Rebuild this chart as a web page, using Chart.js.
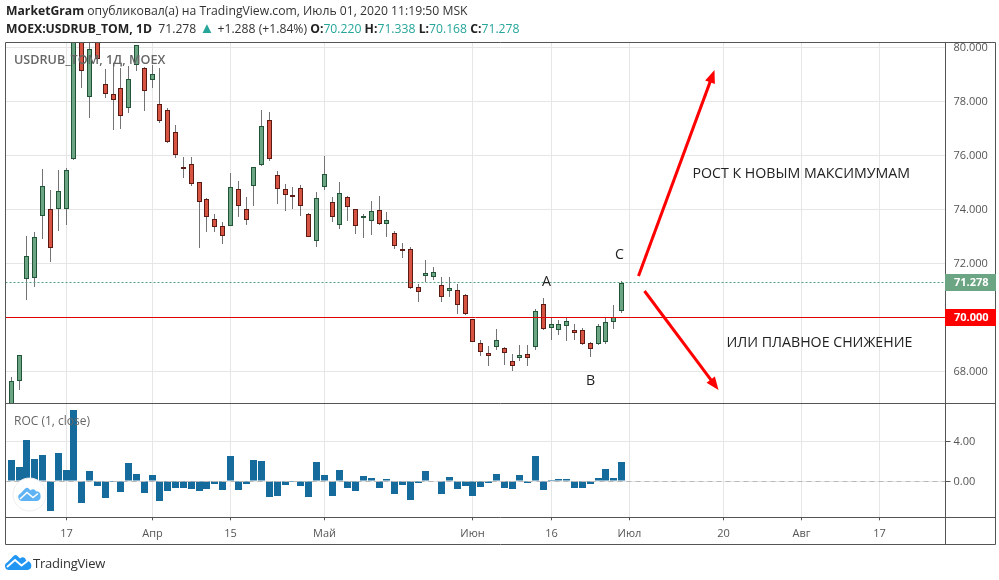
<!DOCTYPE html>
<html>
<head>
<meta charset="utf-8">
<title>USDRUB_TOM</title>
<script src="https://cdn.jsdelivr.net/npm/chart.js@4"></script>
<style>
    html, body { margin: 0; padding: 0; background: #fff; }
    #wrap { position: relative; width: 999px; height: 580px; overflow: hidden; font-family: "Open Sans", sans-serif; }
    canvas { position: absolute; left: 0; top: 0; }
    .txt { position: absolute; white-space: nowrap; line-height: 16px; }
    .head { font-size: 12.2px; color: #333; }
    .head b { color: #222; font-weight: 700; }
    .head i { font-style: normal; color: #26a69a; }
    .head i.tri { font-size: 15px; line-height: 0; }
    .pane { font-size: 12.6px; color: #666; left: 14px; }
</style>
</head>
<body>
<div id="wrap">
    <canvas id="chart" width="999" height="580"></canvas>
    <div class="txt head" style="left:6px;top:3px"><b>MarketGram</b> опубликовал(а) на TradingView.com, Июль 01, 2020 11:19:50 MSK</div>
    <div class="txt head" style="left:6px;top:21px"><b>MOEX:USDRUB_TOM, 1D</b>&nbsp; 71.278 <i class="tri">▲</i> +1.288 (+1.84%) <b>O:</b><i>70.220</i> <b>H:</b><i>71.338</i> <b>L:</b><i>70.168</i> <b>C:</b><i>71.278</i></div>
    <div class="txt pane" style="top:52px;font-weight:600">USDRUB_TOM, 1Д, MOEX</div>
    <div class="txt pane" style="top:413px;font-size:12px">ROC (1, close)</div>

    <svg style="position:absolute;left:12px;top:477px" width="35" height="35" viewBox="0 0 35 35">
        <circle cx="17.5" cy="17.5" r="16.5" fill="#fff" stroke="#eee" stroke-width="1"/>
        <path d="M10 24 a4 4 0 0 1 -1.5 -7.6 l4.5 -4.6 q2 -2 4 0 l1.5 1.6 q2 -2.2 4.5 -0.6 l1 1.6 a4 4 0 0 1 4.5 4.6 a4 4 0 0 1 -3.5 5 z" fill="#5eb3f5"/>
        <path d="M8 22 l7 -6.5 l6 5 l5 -4" fill="none" stroke="#fff" stroke-width="1.6"/>
    </svg>
    <svg style="position:absolute;left:5px;top:554px" width="27" height="17" viewBox="0 0 27 17">
        <path d="M4 16 a4 4 0 0 1 -1.5 -7.7 l6 -6.3 q2 -2 4 0 l2.5 2.6 q2.5 -2.3 5 -0.4 l1.5 2.8 a4.4 4.4 0 0 1 4.8 4.6 a4.4 4.4 0 0 1 -3.8 4.4 z" fill="#2196f3"/>
        <path d="M2 13 l8 -7 l6.500 5.500 l6 -4.500" fill="none" stroke="#fff" stroke-width="1.800"/>
    </svg>
    <div class="txt" style="left:33px;top:555px;font-size:13px;letter-spacing:-0.2px;color:#333">TradingView</div>
</div>

<script>
// Дневные свечи USDRUB_TOM
const opens = [66.6,67.63,71.41,71.47,73.74,74.0,74.0,74.0,75.87,81.0,78.17,80.7,78.63,78.26,78.48,77.76,79.33,79.24,78.78,77.89,
    77.67,76.85,75.56,75.67,75.0,74.37,73.63,73.37,73.39,74.74,74.0,74.87,75.65,77.3,75.26,74.74,74.48,74.78,73.81,72.84,
    74.84,74.26,73.43,74.44,74.0,73.68,73.58,73.96,73.47,73.11,72.5,72.52,71.11,71.54,71.5,71.19,70.99,71.0,70.81,69.93,
    69.04,68.67,68.91,68.85,68.37,68.5,68.63,68.91,70.48,69.61,69.54,69.69,69.52,69.54,69.04,69.02,69.1,69.84,70.22];
const highs = [67.79,68.6,73.01,73.15,75.49,74.71,75.46,75.52,81.5,81.5,80.6,81.0,79.2,79.41,79.23,79.31,80.09,79.26,79.34,79.24,
    77.74,77.12,75.94,75.94,75.0,74.41,73.83,73.53,75.34,75.05,74.46,75.57,77.68,77.6,75.42,74.94,74.83,74.9,73.86,74.63,
    75.97,74.46,75.01,74.49,74.02,73.83,74.31,74.49,73.9,73.2,72.75,72.6,71.23,72.12,71.86,71.48,71.48,71.23,70.85,69.95,
    69.16,68.94,69.57,68.89,68.64,68.97,68.97,70.31,70.71,69.97,69.89,69.97,69.74,69.59,69.09,69.74,69.97,70.46,71.338];
const lows = [66.4,67.31,70.65,71.12,72.9,72.06,73.21,73.43,75.82,78.49,77.39,79.55,78.11,76.94,76.97,77.56,79.11,77.64,78.5,77.2,
    76.46,75.91,75.16,74.86,72.58,73.16,73.16,72.71,73.37,73.71,73.42,74.12,75.61,75.8,74.2,73.94,74.01,73.75,72.98,72.6,
    74.71,73.53,73.27,73.57,73.09,72.94,73.05,73.42,72.97,72.54,72.2,71.05,70.57,71.3,71.38,70.57,70.75,70.12,70.09,69.08,
    68.57,68.2,68.8,68.23,68.01,68.38,68.2,68.79,69.54,69.16,69.34,69.12,69.16,68.97,68.54,68.97,69.02,69.57,70.168];
const closes = [67.63,68.59,72.26,72.96,74.85,72.58,74.67,75.44,81.0,79.11,79.93,79.58,78.28,78.06,77.47,78.81,80.07,78.37,79.0,77.26,
    76.48,76.02,75.5,74.95,74.28,73.73,73.36,73.0,74.81,74.13,73.61,75.56,77.07,75.87,74.76,74.54,74.46,74.13,72.99,74.41,
    75.3,73.73,74.59,74.1,73.39,73.7,73.93,73.47,73.59,72.65,72.47,71.09,70.95,71.63,71.67,70.76,71.07,70.47,70.12,69.1,
    68.73,68.58,69.15,68.69,68.21,68.59,68.5,70.22,69.58,69.74,69.74,69.85,69.43,69.02,68.84,69.67,69.81,70.0,71.278];
const rocValues = [2.13,1.43,4.13,2.23,2.63,-2.97,2.83,1.13,7.13,-2.17,1.03,-0.47,-1.67,-0.07,-1.07,1.83,0.73,-1.17,0.63,-1.97,
    -0.97,-0.67,-0.67,-0.77,-0.97,-0.77,-0.27,-0.87,2.53,-0.87,-0.27,2.13,2.03,-1.57,-1.47,-0.37,-0.07,-0.47,-1.57,1.93,
    0.63,-1.47,1.13,-0.67,-0.97,0.53,0.33,-0.67,0.23,-1.27,-0.37,-1.87,-0.17,1.03,0.07,-1.27,0.43,-0.77,-0.47,-1.47,
    -0.57,-0.17,0.73,-0.67,-0.77,0.63,-0.17,2.53,-0.87,0.13,0.23,0.23,-0.67,-0.67,-0.27,0.33,1.23,0.33,1.9];

const priceTicks = [68,70,72,74,76,78,80];
const rocTicks = [0,4];
const timeTickIndex = [7,18,28,40,59,69,79,91,101,111];
const timeTickLabels = ['17','Апр','15','Май','Июн','16','Июл','20','Авг','17'];
const lastPrice = 71.278;
const levelPrice = 70;

// Рисунки автора поверх графика: индекс свечи и цена
const arrows = [
    { from: [80.14, 71.53], to: [89.9, 79.16] },
    { from: [80.9, 70.97], to: [90.33, 67.31] }
];
const notes = [
    { i: 68.36, p: 71.34, text: 'A', align: 'center' },
    { i: 77.7, p: 72.34, text: 'C', align: 'center' },
    { i: 74, p: 67.68, text: 'B', align: 'center' },
    { i: 87.1, p: 75.34, text: 'РОСТ К НОВЫМ МАКСИМУМАМ', align: 'left' },
    { i: 91.4, p: 69.09, text: 'ИЛИ ПЛАВНОЕ СНИЖЕНИЕ', align: 'left' }
];

const xMin = -0.74, xMax = 119.4;
const UP = '#6ba583', DOWN = '#d75442', UP_EDGE = '#225437', DOWN_EDGE = '#5b1a13';
const FRAME = '#555', GRID = '#e6e6e6';
const axisFont = { family: 'Open Sans', size: 11 };

const isUp = closes.map((c, i) => c >= opens[i]);
const idx = closes.map((c, i) => i);

// Свечи и линии должны лежать по пикселям, как в оригинале
function snapScale(scale, fn) {
    if (scale.snapped) return;
    const orig = scale.getPixelForValue.bind(scale);
    scale.getPixelForValue = (v, i) => fn(orig(v, i));
    scale.snapped = true;
}

const overlay = {
    id: 'overlay',
    beforeDatasetDraw(chart, args) {
        if (args.meta.type === 'line') {
            chart.ctx.save();
            chart.ctx.translate(0, chart.data.datasets[args.index].rowShift);
        }
    },
    afterDatasetDraw(chart, args) {
        if (args.meta.type === 'line') chart.ctx.restore();
    },
    afterDraw(chart) {
        const { ctx, scales: { x, yPrice, yRoc } } = chart;

        // рамка панелей
        ctx.save();
        ctx.strokeStyle = FRAME;
        ctx.lineWidth = 1;
        const r = 995.5, b = 544.5;
        ctx.beginPath();
        ctx.rect(5.5, 42.5, r - 5.5, b - 42.5);
        ctx.moveTo(5.5, Math.floor(yPrice.bottom) + 0.5); ctx.lineTo(r, Math.floor(yPrice.bottom) + 0.5);
        ctx.moveTo(5.5, Math.floor(yRoc.bottom) + 0.5); ctx.lineTo(r, Math.floor(yRoc.bottom) + 0.5);
        ctx.moveTo(945.5, 42.5); ctx.lineTo(945.5, b);
        ctx.stroke();

        // плашки цены
        [[lastPrice, UP, 9], [levelPrice, '#ff0000', 8]].forEach(([v, color, above]) => {
            const y = yPrice.getPixelForValue(v);
            ctx.fillStyle = color;
            ctx.fillRect(945, y - above, 51, 17);
            ctx.fillStyle = '#fff';
            ctx.font = '700 11px "Open Sans"';
            ctx.textAlign = 'left';
            ctx.textBaseline = 'middle';
            ctx.fillText(v.toFixed(3), 954, y - above + 9);
        });

        // стрелки
        ctx.strokeStyle = '#ff0000';
        ctx.fillStyle = '#ff0000';
        ctx.lineWidth = 3;
        arrows.forEach(({ from, to }) => {
            const x0 = x.getPixelForValue(from[0]), y0 = yPrice.getPixelForValue(from[1]);
            const x1 = x.getPixelForValue(to[0]), y1 = yPrice.getPixelForValue(to[1]);
            const ang = Math.atan2(y1 - y0, x1 - x0);
            ctx.beginPath();
            ctx.moveTo(x0, y0);
            ctx.lineTo(x1 - 6 * Math.cos(ang), y1 - 6 * Math.sin(ang));
            ctx.stroke();
            ctx.beginPath();
            ctx.moveTo(x1, y1);
            ctx.lineTo(x1 - 14 * Math.cos(ang - 0.38), y1 - 14 * Math.sin(ang - 0.38));
            ctx.lineTo(x1 - 14 * Math.cos(ang + 0.38), y1 - 14 * Math.sin(ang + 0.38));
            ctx.closePath();
            ctx.fill();
        });

        // подписи
        ctx.fillStyle = '#222';
        ctx.font = '14.2px "Open Sans"';
        ctx.textBaseline = 'middle';
        notes.forEach(n => {
            ctx.textAlign = n.align;
            ctx.fillText(n.text, x.getPixelForValue(n.i), yPrice.getPixelForValue(n.p) + 1);
        });
        ctx.restore();
    }
};

function levelLine(value, yAxisID, color, dash, rowShift) {
    return {
        type: 'line', xAxisID: 'x', yAxisID, order: 1, rowShift,
        data: [{ x: xMin, y: value }, { x: xMax, y: value }],
        borderColor: color, borderWidth: 1, borderDash: dash, pointRadius: 0, clip: 0
    };
}

new Chart(document.getElementById('chart'), {
    type: 'bar',
    data: {
        datasets: [
            {
                yAxisID: 'yPrice', order: 4, barThickness: 1, inflateAmount: 0, clip: 0,
                data: idx.map(i => ({ x: i, y: [lows[i], highs[i]] })),
                backgroundColor: '#737375', borderWidth: 0
            },
            {
                yAxisID: 'yPrice', order: 3, barThickness: 5, inflateAmount: 0, clip: 0, minBarLength: 2,
                data: idx.map(i => ({ x: i, y: [opens[i], closes[i]] })),
                backgroundColor: isUp.map(u => u ? UP : DOWN),
                borderColor: isUp.map(u => u ? UP_EDGE : DOWN_EDGE),
                borderWidth: 1, borderSkipped: false
            },
            {
                yAxisID: 'yRoc', order: 2, barThickness: 7, inflateAmount: 0, clip: 0,
                data: idx.map(i => ({ x: i, y: rocValues[i] })),
                backgroundColor: '#156b9c', borderWidth: 0
            },
            levelLine(levelPrice, 'yPrice', '#e00000', [], 0.5),
            levelLine(lastPrice, 'yPrice', '#53a07c', [2, 2], -0.5),
            levelLine(0, 'yRoc', '#b8b8b8', [5, 4], 0.5)
        ]
    },
    options: {
        responsive: false,
        animation: false,
        devicePixelRatio: 1,
        layout: { padding: { left: 5.5, right: 3.5, top: 43, bottom: 35.7 } },
        datasets: { bar: { grouped: false } },
        plugins: { legend: { display: false }, tooltip: { enabled: false } },
        scales: {
            x: {
                type: 'linear', min: xMin, max: xMax, offset: false,
                border: { display: false },
                grid: { color: GRID, tickColor: FRAME, tickLength: 3, offset: false },
                afterBuildTicks(s) { s.ticks = timeTickIndex.map(v => ({ value: v })); },
                afterDataLimits(s) { snapScale(s, p => Math.floor(p) + 0.5); },
                afterFit(s) { s.height = 27; },
                ticks: {
                    autoSkip: false, maxRotation: 0, color: FRAME, font: axisFont, padding: 7,
                    callback: v => timeTickLabels[timeTickIndex.indexOf(v)]
                }
            },
            yPrice: {
                type: 'linear', position: 'right', stack: 'panes', stackWeight: 360.3,
                min: 66.815, max: 80.159,
                border: { display: false },
                grid: { color: GRID, drawTicks: false },
                afterBuildTicks(s) { s.ticks = priceTicks.map(v => ({ value: v })); },
                afterDataLimits(s) { snapScale(s, Math.round); },
                afterFit(s) { s.width = 50; },
                ticks: { color: FRAME, font: axisFont, padding: 8, labelOffset: 1, callback: v => v.toFixed(3) }
            },
            yRoc: {
                type: 'linear', position: 'right', stack: 'panes', stackWeight: 114,
                min: -3.6, max: 7.8,
                border: { display: false },
                grid: { color: GRID, tickColor: FRAME, tickLength: 5 },
                afterBuildTicks(s) { s.ticks = rocTicks.map(v => ({ value: v })); },
                afterDataLimits(s) { snapScale(s, Math.round); },
                afterFit(s) { s.width = 50; },
                ticks: { color: FRAME, font: axisFont, padding: 3, labelOffset: 1, callback: v => v.toFixed(2) }
            }
        }
    },
    plugins: [overlay]
});
</script>
</body>
</html>
